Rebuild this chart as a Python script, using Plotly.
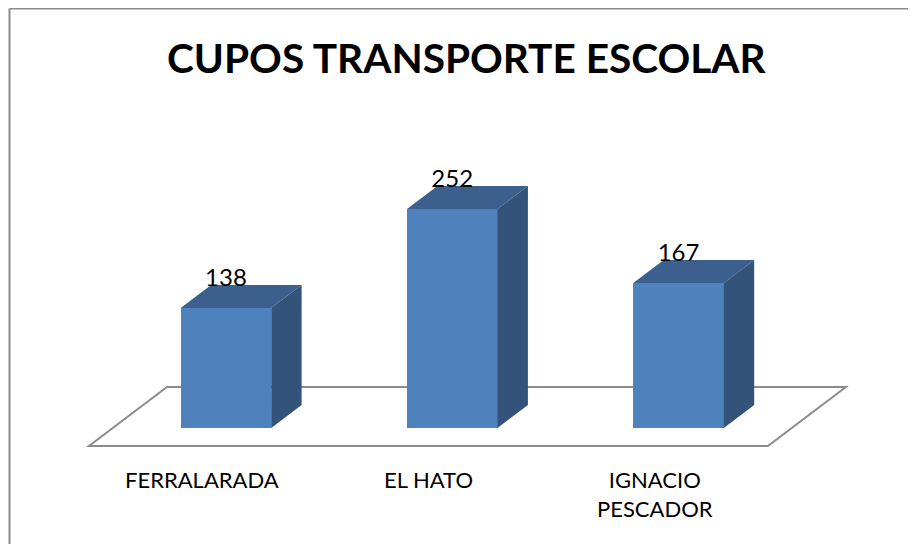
import plotly.graph_objects as go

# ---- data ----
categories = ["FERRALARADA", "EL HATO", "IGNACIO<br>PESCADOR"]
values = [138, 252, 167]
title_text = "CUPOS TRANSPORTE ESCOLAR"

# ---- geometry / style (pixel based pseudo-3D projection) ----
PAGE_OFF = 8            # default body margin of the html page
W, H = 916 - PAGE_OFF, 544 - PAGE_OFF
PX_PER_CAT = 226.3      # px per category slot
PX_PER_VAL = 0.869      # px per value unit
X0_PX = 89 - PAGE_OFF   # floor front-left corner (px from left)
Y0_PX = 428 - PAGE_OFF  # bar front bottom (px from top)
DEPTH_PX = (78, 59)     # floor depth vector in px (right, up)
D_FRONT, D_BACK = 18 / 59, 41 / 59   # bar front/back depth fractions
BAR_W = 0.4

FRONT = "#4F81BD"
TOP = "#3B608D"
SIDE = "#33537A"
GRID = "#8C8C8C"
FONT = "Lato"

ddx = DEPTH_PX[0] / PX_PER_CAT
ddy = DEPTH_PX[1] / PX_PER_VAL
x_range = [-X0_PX / PX_PER_CAT, (W - X0_PX) / PX_PER_CAT]
y_range = [(Y0_PX - H) / PX_PER_VAL, Y0_PX / PX_PER_VAL]

n = len(categories)
fx = [i + 0.5 + D_FRONT * ddx for i in range(n)]      # front face centres
bdx = (D_BACK - D_FRONT) * ddx
bdy = (D_BACK - D_FRONT) * ddy

fig = go.Figure()

# front faces
fig.add_trace(go.Bar(x=fx, y=values, width=BAR_W, marker=dict(color=FRONT, line=dict(width=0)),
                     hoverinfo="skip", showlegend=False))

# top & side faces
for c, v in zip(fx, values):
    xl, xr = c - BAR_W / 2, c + BAR_W / 2
    fig.add_trace(go.Scatter(x=[xl, xr, xr + bdx, xl + bdx, xl], y=[v, v, v + bdy, v + bdy, v],
                             mode="lines", fill="toself", fillcolor=TOP, line=dict(width=0),
                             hoverinfo="skip", showlegend=False))
    fig.add_trace(go.Scatter(x=[xr, xr + bdx, xr + bdx, xr, xr], y=[0, bdy, v + bdy, v, 0],
                             mode="lines", fill="toself", fillcolor=SIDE, line=dict(width=0),
                             hoverinfo="skip", showlegend=False))

# value labels
fig.add_trace(go.Scatter(x=fx, y=[v + bdy + 6 for v in values], mode="text",
                         text=[str(v) for v in values], textposition="middle center",
                         textfont=dict(family=FONT, size=24, color="black"),
                         hoverinfo="skip", showlegend=False))

# floor
yf = -D_FRONT * ddy
yb = (1 - D_FRONT) * ddy
path = (f"M 0,{yf} L {n},{yf} L {n + ddx},{yb} L {ddx},{yb} Z")
fig.add_shape(type="path", path=path, xref="x", yref="y", layer="below",
              line=dict(color=GRID, width=2), fillcolor="white")

# category labels
for i, cat in enumerate(categories):
    fig.add_annotation(x=i + 0.5, xref="x", y=1 - 455.5 / H, yref="paper", yanchor="top",
                       text=cat, showarrow=False, align="center",
                       font=dict(family=FONT, size=22, color="black"))

# title
fig.add_annotation(x=458.5 / W, xref="paper", y=1 - 49.5 / H, yref="paper", yanchor="middle",
                   text=f"<b>{title_text}</b>", showarrow=False,
                   font=dict(family=FONT, size=40.6, color="black"))

# outer frame (left & top edges)
fx0 = 1.5 / W
fy1 = 1 - 0.5 / H
fig.add_shape(type="line", xref="paper", yref="paper", x0=fx0, x1=fx0, y0=0, y1=fy1,
              line=dict(color=GRID, width=2))
fig.add_shape(type="line", xref="paper", yref="paper", x0=fx0, x1=1, y0=fy1, y1=fy1,
              line=dict(color=GRID, width=2))

fig.update_layout(width=W, height=H, margin=dict(l=0, r=0, t=0, b=0),
                  paper_bgcolor="white", plot_bgcolor="white",
                  xaxis=dict(range=x_range, visible=False, fixedrange=True),
                  yaxis=dict(range=y_range, visible=False, fixedrange=True),
                  bargap=0)

fig.write_html("out.html")
